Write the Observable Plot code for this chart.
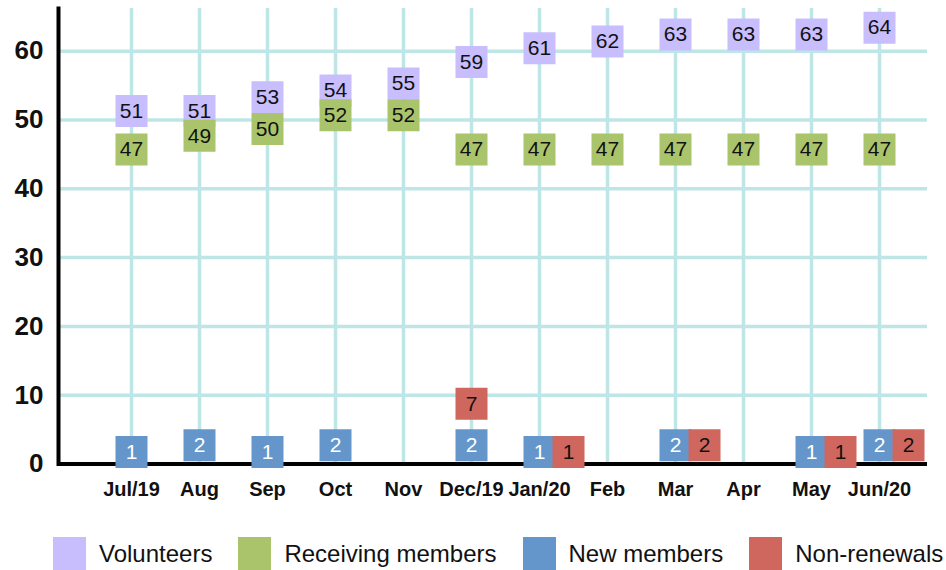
<!DOCTYPE html>
<html><head><meta charset="utf-8">
<script src="https://cdn.jsdelivr.net/npm/d3@7"></script>
<script src="https://cdn.jsdelivr.net/npm/@observablehq/plot@0.6"></script>
<style>
body{margin:0;background:#fff;font-family:"Liberation Sans",Arial,sans-serif;}
#legend{display:flex;align-items:center;padding-left:53px;margin-top:17px;height:33px;}
.item{display:flex;align-items:center;margin-right:26px;font-size:24px;color:#111;white-space:nowrap;}
.sw{width:33px;height:33px;margin-right:13px;}
</style></head><body><div id="chart"></div><div id="legend"></div>
<script>
const months = ["Jul/19","Aug","Sep","Oct","Nov","Dec/19","Jan/20","Feb","Mar","Apr","May","Jun/20"];
const volunteers = [51,51,53,54,55,59,61,62,63,63,63,64];
const receiving = [47,49,50,52,52,47,47,47,47,47,47,47];
const newMembers = [1,2,1,2,null,2,1,null,2,null,1,2];
const nonRenewals = [null,null,null,null,null,7,1,null,2,null,1,2];
const yTicks = [0,10,20,30,40,50,60];
const seriesNames = ["Volunteers","Receiving members","New members","Non-renewals"];
const seriesColors = ["#c8befd","#aac46c","#6496cc","#cf675f"];
const gridColor = "#bee6e6";

const rows = (vals) => months.map((m,i)=>({month:m, value:vals[i], i})).filter(d=>d.value!=null);
const volRows = rows(volunteers);
const recRows = rows(receiving);
const newRows = rows(newMembers);
const nonRows = rows(nonRenewals);
// volunteers labels that sit close to the receiving-members labels
const volClose = volRows.filter(d => Math.abs(d.value-receiving[d.i])<5);
const volFree = volRows.filter(d => !(Math.abs(d.value-receiving[d.i])<5));
// non-renewals next to (close) or above (far) new members
const isBeside = d => newMembers[d.i]!=null && Math.abs(d.value-newMembers[d.i])<3;
const beside = nonRows.filter(isBeside);
const above = nonRows.filter(d => !isBeside(d));

const side = 32;
const boxR = side/Math.sqrt(Math.PI);
function boxes(data, fill, textFill, dx, dy){
  return [
    Plot.dot(data,{x:"month",y:"value",symbol:"square",r:boxR,fill,stroke:"none",dx,dy}),
    Plot.text(data,{x:"month",y:"value",text:d=>String(d.value),fill:textFill,fontSize:21,dx,dy})
  ];
}

const chart = Plot.plot({
  width:946, height:520,
  marginLeft:58, marginRight:19, marginTop:8, marginBottom:56.5,
  style:{fontFamily:"'Liberation Sans', Arial, sans-serif", color:"#111", background:"#fff"},
  x:{type:"point", domain:months, padding:0.83, align:0.6},
  y:{domain:[0,66.2]},
  marks:[
    Plot.ruleX(months,{stroke:gridColor,strokeWidth:3.5}),
    Plot.ruleY(yTicks.filter(t=>t>0),{stroke:gridColor,strokeWidth:3.5}),
    Plot.ruleY([0],{stroke:"#000",strokeWidth:4}),
    Plot.frame({anchor:"left",stroke:"#000",strokeWidth:4}),
    Plot.axisY({ticks:yTicks, tickSize:0, tickPadding:15, fontSize:26, fontWeight:"bold", label:null}),
    Plot.axisX({tickSize:0, tickPadding:18, fontSize:20, fontWeight:"bold", label:null}),
    ...boxes(volFree, seriesColors[0], "#111", 0, 4),
    ...boxes(volClose, seriesColors[0], "#111", 0, -2),
    ...boxes(recRows, seriesColors[1], "#111", 0, 9),
    ...boxes(newRows, seriesColors[2], "#fff", 0, -5),
    ...boxes(beside, seriesColors[3], "#111", 29, -5),
    ...boxes(above, seriesColors[3], "#111", 0, -12)
  ]
});
document.getElementById("chart").appendChild(chart);

const legend = document.getElementById("legend");
seriesNames.forEach((name,k)=>{
  const it = document.createElement("div"); it.className="item";
  const sw = document.createElement("div"); sw.className="sw"; sw.style.background=seriesColors[k];
  const tx = document.createElement("span"); tx.textContent=name;
  it.appendChild(sw); it.appendChild(tx); legend.appendChild(it);
});
</script></body></html>
